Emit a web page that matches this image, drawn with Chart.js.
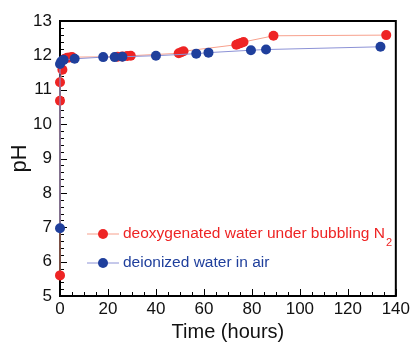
<!DOCTYPE html>
<html>
<head>
<meta charset="utf-8">
<script src="https://cdn.jsdelivr.net/npm/chart.js@4/dist/chart.umd.min.js"></script>
<style>
  html, body { margin: 0; padding: 0; background: #fff; }
  #wrap { width: 413px; height: 344px; position: relative; }
</style>
</head>
<body>
<div id="wrap"><canvas id="grafico" width="413" height="344"></canvas></div>
<script>
// deoxygenated water under bubbling N2
const tempoN2 = [0, 0, 0, 1, 2, 3, 4, 5, 24, 26, 28, 29.5, 49.5, 50.5, 51.5, 73.5, 74.5, 75.5, 76.5, 89, 136];
const phN2 = [5.6, 10.68, 11.22, 11.58, 11.9, 11.93, 11.94, 11.95, 11.96, 11.97, 11.98, 11.99, 12.06, 12.09, 12.12, 12.31, 12.34, 12.36, 12.39, 12.57, 12.59];

// deionized water in air
const tempoAr = [0, 0, 0.5, 1.5, 6.1, 18, 22.8, 26, 40, 56.8, 61.9, 79.6, 85.9, 133.6];
const phAr = [6.97, 11.75, 11.82, 11.87, 11.9, 11.95, 11.95, 11.96, 11.99, 12.05, 12.08, 12.15, 12.17, 12.25];

const xTicks = [0, 20, 40, 60, 80, 100, 120, 140];
const yTicks = [5, 6, 7, 8, 9, 10, 11, 12, 13];

const toPts = (xs, ys) => xs.map((x, i) => ({ x, y: ys[i] }));

const FONTE = '"Liberation Sans", Arial, sans-serif';
const VERMELHO = '#ee2424';
const AZUL = '#1f3f9c';

// ticks internos (maiores e menores)
const ticksInternos = {
    id: 'ticksInternos',
    beforeDatasetsDraw(chart) {
        const { ctx, chartArea: a, scales } = chart;
        ctx.save();
        ctx.strokeStyle = '#000';
        ctx.lineWidth = 1;
        for (let v = 0; v <= 140; v += 5) {
            const px = Math.round(scales.x.getPixelForValue(v)) + 0.5;
            const len = v % 20 === 0 ? 7 : 4;
            ctx.beginPath();
            ctx.moveTo(px, a.bottom);
            ctx.lineTo(px, a.bottom - len);
            ctx.stroke();
        }
        for (let i = 0; i <= 40; i++) {
            const v = 5 + i * 0.2;
            const py = Math.round(scales.y.getPixelForValue(v)) + 0.5;
            const len = i % 5 === 0 ? 7 : 4;
            ctx.beginPath();
            ctx.moveTo(a.left, py);
            ctx.lineTo(a.left + len, py);
            ctx.stroke();
        }
        // moldura
        ctx.lineWidth = 2;
        ctx.strokeRect(a.left, a.top, a.right - a.left, a.bottom - a.top);
        ctx.restore();
    }
};

// legenda desenhada à mão por causa do subscrito em N2
const legenda = {
    id: 'legenda',
    afterDraw(chart) {
        const { ctx } = chart;
        const itens = [
            { y: 234, ds: chart.data.datasets[0], texto: 'deoxygenated water under bubbling N', sub: '2' },
            { y: 263, ds: chart.data.datasets[1], texto: 'deionized water in air' }
        ];
        ctx.save();
        itens.forEach(it => {
            ctx.strokeStyle = it.ds.borderColor;
            ctx.lineWidth = 1;
            ctx.beginPath();
            ctx.moveTo(87, it.y);
            ctx.lineTo(119, it.y);
            ctx.stroke();
            ctx.fillStyle = it.ds.pointBackgroundColor;
            ctx.beginPath();
            ctx.arc(103, it.y, 5, 0, Math.PI * 2);
            ctx.fill();
            ctx.font = '15.5px ' + FONTE;
            ctx.textBaseline = 'middle';
            ctx.fillText(it.texto, 123, it.y);
            if (it.sub) {
                const w = ctx.measureText(it.texto).width;
                ctx.font = '11px ' + FONTE;
                ctx.fillText(it.sub, 123 + w + 1, it.y + 9);
            }
        });
        ctx.restore();
    }
};

new Chart(document.getElementById('grafico').getContext('2d'), {
    type: 'line',
    data: {
        datasets: [
            {
                label: 'deoxygenated water under bubbling N2',
                data: toPts(tempoN2, phN2),
                borderColor: '#f7a08c',
                borderWidth: 1,
                pointBackgroundColor: VERMELHO,
                pointBorderColor: VERMELHO,
                pointRadius: 5,
                pointBorderWidth: 0,
                tension: 0,
                clip: false,
                order: 2
            },
            {
                label: 'deionized water in air',
                data: toPts(tempoAr, phAr),
                borderColor: '#8c92d6',
                borderWidth: 1,
                pointBackgroundColor: AZUL,
                pointBorderColor: AZUL,
                pointRadius: 5,
                pointBorderWidth: 0,
                tension: 0,
                clip: false,
                order: 1
            }
        ]
    },
    options: {
        responsive: false,
        animation: false,
        devicePixelRatio: 1,
        layout: { padding: { top: 21, right: 16, left: 0, bottom: 0 } },
        plugins: {
            legend: { display: false },
            tooltip: { enabled: false }
        },
        scales: {
            x: {
                type: 'linear',
                min: 0,
                max: 140,
                afterBuildTicks: s => { s.ticks = xTicks.map(v => ({ value: v })); },
                afterFit: s => { s.height = 48; },
                border: { display: false },
                grid: { display: false, drawTicks: false, tickLength: 0 },
                ticks: {
                    color: '#111',
                    font: { family: FONTE, size: 17 },
                    padding: 3,
                    maxRotation: 0,
                    autoSkip: false
                },
                title: {
                    display: true,
                    text: 'Time (hours)',
                    color: '#111',
                    font: { family: FONTE, size: 20 },
                    padding: { top: 0, bottom: 0 }
                }
            },
            y: {
                type: 'linear',
                min: 5,
                max: 13,
                afterBuildTicks: s => { s.ticks = yTicks.map(v => ({ value: v })); },
                afterFit: s => { s.width = 60; },
                border: { display: false },
                grid: { display: false, drawTicks: false, tickLength: 0 },
                ticks: {
                    color: '#111',
                    font: { family: FONTE, size: 17 },
                    padding: 8,
                    autoSkip: false
                },
                title: {
                    display: true,
                    text: 'pH',
                    color: '#111',
                    font: { family: FONTE, size: 22 },
                    padding: { top: 7, bottom: 0 }
                }
            }
        }
    },
    plugins: [ticksInternos, legenda]
});
</script>
</body>
</html>
